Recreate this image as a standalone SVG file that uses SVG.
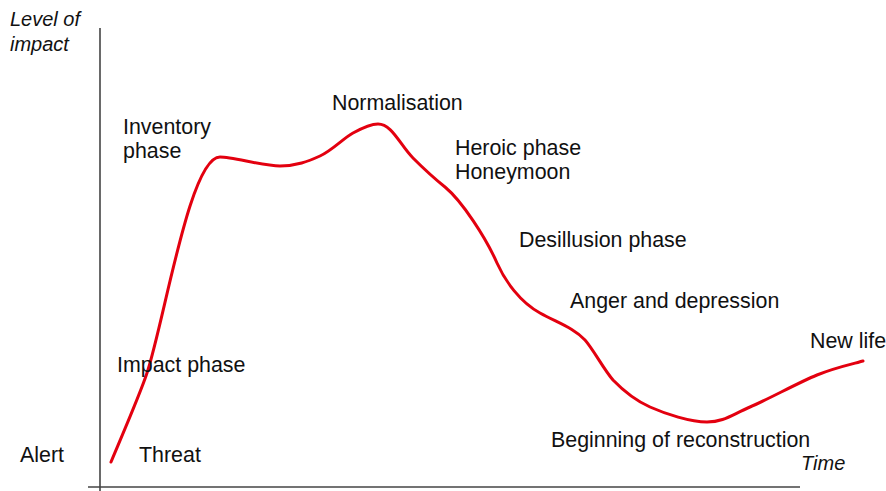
<svg xmlns="http://www.w3.org/2000/svg" width="886" height="491" viewBox="0 0 886 491">
<style>
.lbl{font-family:"Liberation Sans",Arial,sans-serif;font-size:21.4px;fill:#111}
.ax{font-family:"Liberation Sans",Arial,sans-serif;font-size:20px;font-style:italic;fill:#111}
.axis{stroke:#444;stroke-width:1.6;fill:none}
.curve{stroke:#e3000f;stroke-width:3;fill:none;stroke-linecap:round;stroke-linejoin:round}
</style>
<rect width="886" height="491" fill="#fff"/>
<g id="axes">
<line class="axis" x1="100" y1="28" x2="100" y2="491"/>
<line class="axis" x1="88" y1="487" x2="800" y2="487"/>
<text class="ax" x="10" y="26">Level of</text>
<text class="ax" x="10" y="51">impact</text>
<text class="ax" x="801" y="470">Time</text>
</g>
<g id="connectors">
<path class="curve" d="M111,462 C118,445 140,394.4 147,373 C165,318 190,157 220,157 C233,157 263,166 280,166 C296.7,165.8 307.8,161.5 320,156 C332.2,150.5 343.3,138.3 353,133 C362.7,127.7 371,124 378,124 C392,124 400,145 413,158 C421,166 435,179 445,187 C462,201 486,238 497,263 C505,281 520,302 540,313 C558,323 574,328 585,340 C593.8,350 603.8,369.7 613,380 C623.8,391.2 634.3,400 650,407 C665.7,414 690.3,422 707,422 C723.7,422 731.7,414.8 750,407 C768.3,399.2 798.2,382.7 817,375 C835.8,367.3 855.3,363.3 863,361"/>
</g>
<g id="alert"><text class="lbl" x="20" y="462">Alert</text></g>
<g id="threat"><text class="lbl" x="139" y="462">Threat</text></g>
<g id="impact-phase"><text class="lbl" x="117" y="372">Impact phase</text></g>
<g id="inventory-phase"><text class="lbl" x="123" y="134">Inventory</text><text class="lbl" x="123" y="158">phase</text></g>
<g id="normalisation"><text class="lbl" x="332" y="110">Normalisation</text></g>
<g id="heroic-phase"><text class="lbl" x="455" y="155">Heroic phase</text><text class="lbl" x="455" y="179">Honeymoon</text></g>
<g id="desillusion-phase"><text class="lbl" x="519" y="247">Desillusion phase</text></g>
<g id="anger"><text class="lbl" x="570" y="308">Anger and depression</text></g>
<g id="reconstruction"><text class="lbl" x="551" y="447">Beginning of reconstruction</text></g>
<g id="new-life"><text class="lbl" x="810" y="348">New life</text></g>
</svg>
